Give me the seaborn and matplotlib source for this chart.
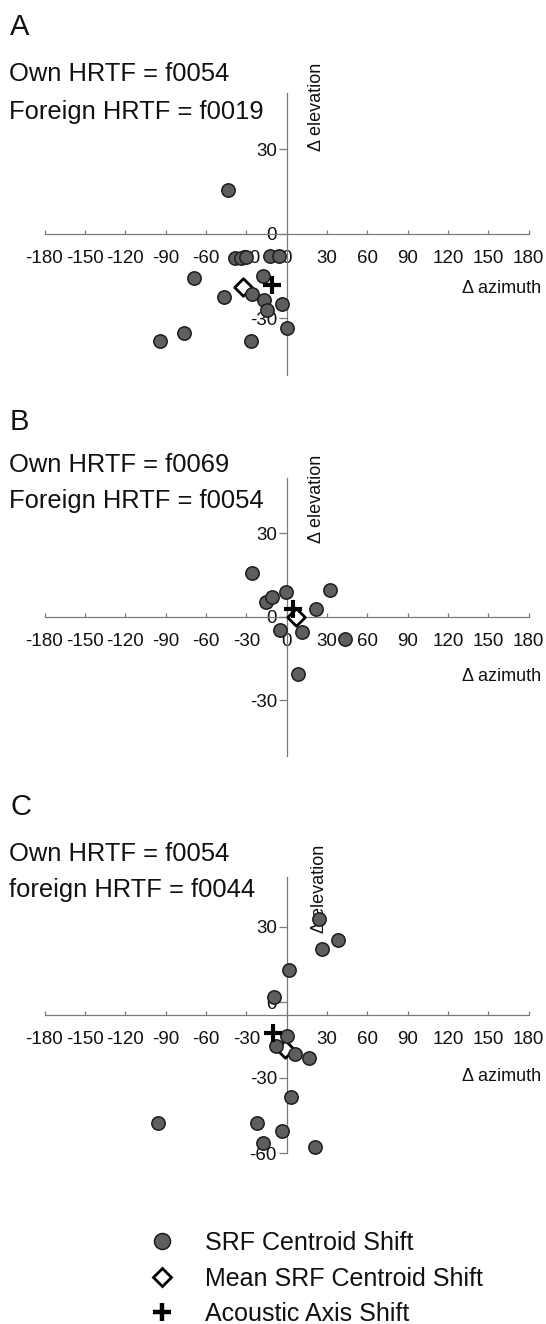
import numpy as np
import pandas as pd
import matplotlib.pyplot as plt
from matplotlib.lines import Line2D
import seaborn as sns

sns.set_theme(style="white")
plt.rcParams["font.family"] = ["Liberation Sans", "DejaVu Sans"]

# panel A : own f0054 / foreign f0019
a_az = [-43.8, -38.5, -34.0, -30.3, -12.0, -5.5, -68.6, -17.6, -46.8, -25.8,
        -16.6, -14.3, -3.6, 0.6, -76.1, -94.0, -26.5]
a_el = [15.5, -8.7, -8.5, -8.3, -8.0, -8.0, -15.8, -15.1, -22.6, -21.2,
        -23.4, -27.0, -25.0, -33.4, -35.2, -38.0, -38.0]
a_mean = [-32.2, -19.0]
a_acoustic = [-11.2, -18.3]

# panel B : own f0069 / foreign f0054
b_az = [-25.9, -15.6, -11.1, -0.6, 32.0, 22.1, -4.6, 11.6, 43.7, 8.6]
b_el = [15.6, 5.3, 7.2, 8.8, 9.5, 2.9, -4.8, -5.6, -7.9, -20.7]
b_mean = [7.2, 0.0]
b_acoustic = [4.5, 2.6]

# panel C : own f0054 / foreign f0044
c_az = [24.3, 38.0, 26.6, 2.0, -9.0, 0.5, -8.0, 5.9, 17.0, 3.5,
        -95.6, -21.7, -3.7, -17.5, 21.2]
c_el = [33.1, 24.7, 21.1, 12.9, 2.0, -13.3, -17.2, -20.5, -22.0, -37.6,
        -47.9, -48.1, -51.1, -56.1, -57.4]
c_mean = [-1.2, -18.5]
c_acoustic = [-10.0, -12.0]

own_labels = ["Own HRTF = f0054", "Own HRTF = f0069", "Own HRTF = f0054"]
foreign_labels = ["Foreign HRTF = f0019", "Foreign HRTF = f0054", "foreign HRTF = f0044"]
panel_letters = ["A", "B", "C"]
x_ticks = list(range(-180, 181, 30))
y_ticks = [[-30, 0, 30], [-30, 0, 30], [-60, -30, 0, 30]]
y_lims = [(-50, 50), (-50, 50), (-60, 50)]
x_cross = [0, 0, -5]

legend_labels = ["SRF Centroid Shift", "Mean SRF Centroid Shift", "Acoustic Axis Shift"]

W, H = 546, 1324
fig = plt.figure(figsize=(W / 100, H / 100), dpi=100)
fig.patch.set_facecolor("white")


def fx(px):
    return px / W


def fy(py):
    return 1 - py / H


# pixel boxes of the plot areas: (left, top, right, bottom)
boxes = [(44.5, 92.6, 528.7, 374.8), (44.5, 477.8, 528.7, 755.6), (44.5, 876.7, 528.7, 1153.3)]
letter_top = [13, 408, 793]
own_base = [81, 472, 861]
foreign_base = [119, 508, 897]
elev_pos = [(316.5, 106.5), (316.5, 499), (320, 889)]
azim_y = [288.3, 676.7, 1076.7]

dot_face = "#5e5e5e"
dot_edge = "#1c1c1c"
axis_col = "#7a7a7a"

series = [(a_az, a_el, a_mean, a_acoustic),
          (b_az, b_el, b_mean, b_acoustic),
          (c_az, c_el, c_mean, c_acoustic)]

for i, (az, el, mean, acoustic) in enumerate(series):
    l, t, r, b = boxes[i]
    ax = fig.add_axes([fx(l), fy(b), (r - l) / W, (b - t) / H])
    ax.set_facecolor("none")

    sns.scatterplot(x=[mean[0]], y=[mean[1]], ax=ax, marker="D", s=80,
                    color="white", edgecolor="black", linewidth=2.0, zorder=3, clip_on=False)
    sns.scatterplot(x=az, y=el, ax=ax, s=92, color=dot_face, edgecolor=dot_edge,
                    linewidth=1.1, zorder=4, clip_on=False)
    sns.scatterplot(x=[acoustic[0]], y=[acoustic[1]], ax=ax, marker="+", s=170,
                    color="black", linewidth=3.0, zorder=5, clip_on=False)

    ax.set_xlim(-180, 180)
    ax.set_ylim(*y_lims[i])
    ax.set_xticks(x_ticks)
    ax.set_yticks(y_ticks[i])
    ax.set_xticklabels([str(v) for v in x_ticks])
    ax.set_yticklabels([str(v) for v in y_ticks[i]])
    ax.set_xlabel("")
    ax.set_ylabel("")

    for side in ["top", "right"]:
        ax.spines[side].set_visible(False)
    ax.spines["left"].set_position(("data", 0))
    ax.spines["bottom"].set_position(("data", x_cross[i]))
    for side in ["left", "bottom"]:
        ax.spines[side].set_color(axis_col)
        ax.spines[side].set_linewidth(0.9)

    ax.tick_params(axis="x", direction="in", length=3, width=0.9, color=axis_col,
                   pad=11.5, labelsize=13.5, labelcolor="#111111", bottom=True)
    ax.tick_params(axis="y", direction="out", length=5.5, width=0.9, color=axis_col,
                   pad=1.5, labelsize=13.5, labelcolor="#111111", left=True)
    ax.grid(False)

    ex, ey = elev_pos[i]
    ax.text(fx(ex), fy(ey), "\u0394 elevation", rotation=90, ha="center", va="center",
            fontsize=13, color="#111111", transform=fig.transFigure, zorder=3)
    ax.text(fx(541), fy(azim_y[i]), "\u0394 azimuth", ha="right", va="center",
            fontsize=13, color="#111111", transform=fig.transFigure, zorder=3)

    fig.text(fx(10), fy(letter_top[i]), panel_letters[i], ha="left", va="top",
             fontsize=21, color="#111111")
    fig.text(fx(9), fy(own_base[i]), own_labels[i], ha="left", va="baseline",
             fontsize=18.4, color="#111111")
    fig.text(fx(9), fy(foreign_base[i]), foreign_labels[i], ha="left", va="baseline",
             fontsize=18.4, color="#111111")

handles = [
    Line2D([], [], ls="none", marker="o", ms=11.5, mfc=dot_face, mec=dot_edge, mew=1.1),
    Line2D([], [], ls="none", marker="D", ms=9.5, mfc="white", mec="black", mew=2.0),
    Line2D([], [], ls="none", marker="+", ms=13.5, mec="black", mew=3.2),
]
fig.legend(handles, legend_labels, loc="upper left", bbox_to_anchor=(fx(149), fy(1231)),
           frameon=False, fontsize=18, handlelength=1.0, handletextpad=1.24,
           labelspacing=0.46, borderpad=0, borderaxespad=0, labelcolor="#111111")

fig.savefig("out.png", dpi=100, facecolor="white")
